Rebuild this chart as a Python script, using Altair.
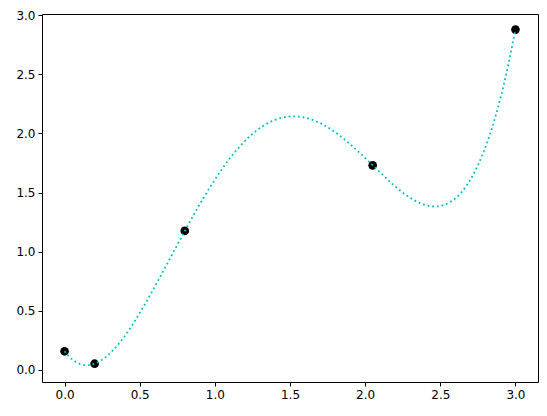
import altair as alt
import pandas as pd

xs = [0.0, 0.2, 0.8, 2.05, 3.0]
ys = [0.155, 0.05, 1.175, 1.73, 2.88]
ticks = [0.0, 0.5, 1.0, 1.5, 2.0, 2.5, 3.0]

df = pd.DataFrame({"x": xs, "y": ys})

xscale = alt.Scale(domain=[-0.15, 3.15], nice=False, zero=False)
yscale = alt.Scale(domain=[-0.105, 3.012], nice=False, zero=False)
xaxis = alt.Axis(values=ticks, format=".1f", title=None, grid=False, domain=False,
                 tickColor="black", tickSize=4, labelPadding=3, labelColor="black")
yaxis = alt.Axis(values=ticks, format=".1f", title=None, grid=False, domain=False,
                 tickColor="black", tickSize=4, labelPadding=3, labelColor="black")

base = alt.Chart(df)

points = base.mark_circle(color="black", opacity=1, size=75).encode(
    x=alt.X("x:Q", scale=xscale, axis=xaxis),
    y=alt.Y("y:Q", scale=yscale, axis=yaxis),
)

curve = base.transform_regression(
    "x", "y", method="poly", order=4, extent=[0, 3]
).mark_line(color="#00bfbf", strokeWidth=1.8, strokeDash=[1.8, 2.9]).encode(
    x=alt.X("x:Q", scale=xscale),
    y=alt.Y("y:Q", scale=yscale),
)

chart = alt.layer(points, curve).properties(
    width=496, height=368,
    autosize=alt.AutoSizeParams(type="none"),
    padding={"left": 34, "top": 6, "right": 1, "bottom": 24},
).configure_view(
    stroke="black", strokeWidth=1
).configure_axis(
    labelFont="DejaVu Sans", labelFontSize=12
)

chart.save("out.html", embed_options={"renderer": "svg", "actions": False})
